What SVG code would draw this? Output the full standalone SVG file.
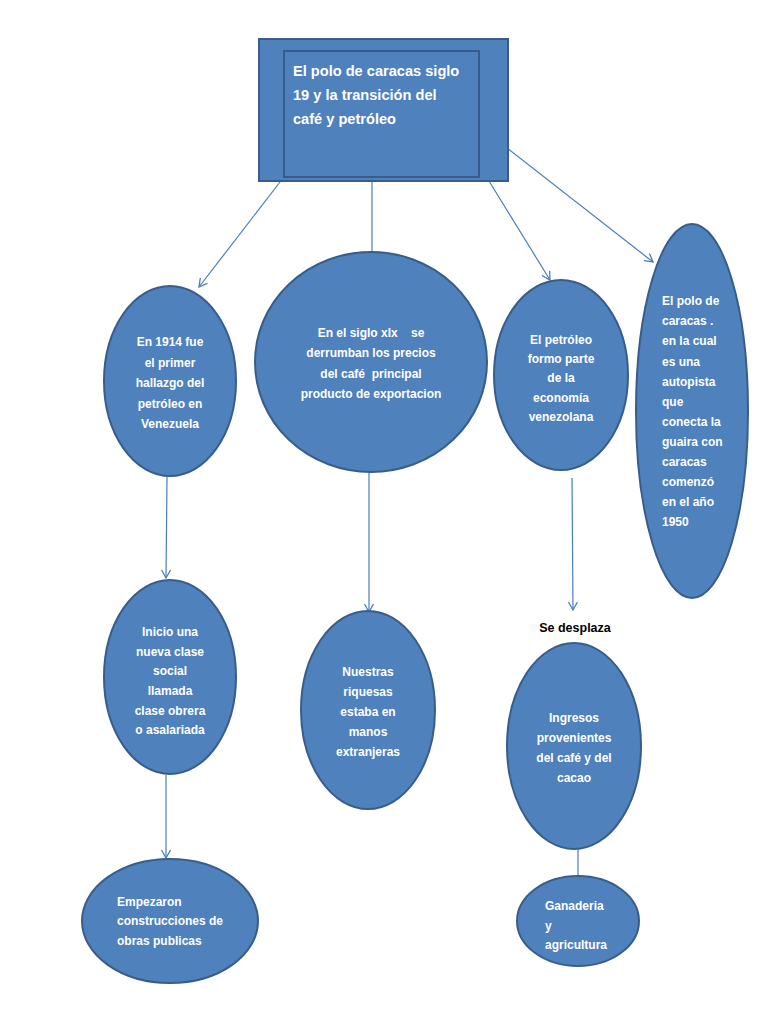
<svg xmlns="http://www.w3.org/2000/svg" width="768" height="1024" viewBox="0 0 768 1024">
<defs>
<marker id="arr" markerWidth="12" markerHeight="12" refX="9" refY="5" orient="auto" markerUnits="userSpaceOnUse">
<path d="M1,0.5 L9,5 L1,9.5" fill="none" stroke="#4A7EBB" stroke-width="1.3"/>
</marker>
</defs>
<style>
.node{fill:#4F81BD;stroke:#385D8A;stroke-width:2}
.t{fill:#ffffff;font-family:"Liberation Sans",Arial,sans-serif;font-size:12px;font-weight:bold}
.c{text-anchor:middle}
.title{fill:#ffffff;font-family:"Liberation Sans",Arial,sans-serif;font-size:14.6px;font-weight:bold}
.lbl{fill:#000000;font-family:"Liberation Sans",Arial,sans-serif;font-size:12.5px;font-weight:bold}
.con line{stroke:#4A7EBB;stroke-width:1.2;fill:none}
</style>
<rect width="768" height="1024" fill="#ffffff"/>
<g id="connectors" class="con">
<line x1="280" y1="182" x2="199" y2="287" marker-end="url(#arr)"/>
<line x1="372" y1="182" x2="372" y2="253"/>
<line x1="489" y1="181" x2="550" y2="280" marker-end="url(#arr)"/>
<line x1="507" y1="148" x2="653" y2="262" marker-end="url(#arr)"/>
<line x1="167" y1="477" x2="166" y2="578" marker-end="url(#arr)"/>
<line x1="369" y1="472" x2="369" y2="612" marker-end="url(#arr)"/>
<line x1="572" y1="478" x2="573" y2="610" marker-end="url(#arr)"/>
<line x1="166" y1="775" x2="166" y2="858" marker-end="url(#arr)"/>
<line x1="578" y1="849" x2="578" y2="878"/>
</g>
<g id="title">
<rect class="node" x="259" y="39" width="249" height="142" stroke-width="2.5"/>
<rect class="node" x="284" y="51" width="195" height="126"/>
<text class="title" x="293" y="76">El polo de caracas siglo</text>
<text class="title" x="293" y="100">19 y la transición del</text>
<text class="title" x="293" y="124">café y petróleo</text>
</g>
<g id="n1914">
<ellipse class="node" cx="170" cy="381" rx="66" ry="95"/>
<text class="t c" x="170" y="346">En 1914 fue</text>
<text class="t c" x="170" y="367">el primer</text>
<text class="t c" x="170" y="387">hallazgo del</text>
<text class="t c" x="170" y="408">petróleo en</text>
<text class="t c" x="170" y="428">Venezuela</text>
</g>
<g id="nsiglo">
<ellipse class="node" cx="371" cy="362" rx="116" ry="110"/>
<text class="t c" x="371" y="337" xml:space="preserve">En el siglo xIx    se</text>
<text class="t c" x="371" y="357">derrumban los precios</text>
<text class="t c" x="371" y="378" xml:space="preserve">del café  principal</text>
<text class="t c" x="371" y="398">producto de exportacion</text>
</g>
<g id="npetroleo">
<ellipse class="node" cx="561" cy="375" rx="67" ry="95"/>
<text class="t c" x="561" y="344">El petróleo</text>
<text class="t c" x="561" y="363">formo parte</text>
<text class="t c" x="561" y="382">de la</text>
<text class="t c" x="561" y="402">economía</text>
<text class="t c" x="561" y="421">venezolana</text>
</g>
<g id="npolo">
<ellipse class="node" cx="692" cy="411" rx="56" ry="187"/>
<text class="t" x="662" y="305">El polo de</text>
<text class="t" x="662" y="325">caracas .</text>
<text class="t" x="662" y="345">en la cual</text>
<text class="t" x="662" y="366">es una</text>
<text class="t" x="662" y="386">autopista</text>
<text class="t" x="662" y="406">que</text>
<text class="t" x="662" y="426">conecta la</text>
<text class="t" x="662" y="446">guaira con</text>
<text class="t" x="662" y="466">caracas</text>
<text class="t" x="662" y="486">comenzó</text>
<text class="t" x="662" y="506">en el año</text>
<text class="t" x="662" y="526">1950</text>
</g>
<g id="ninicio">
<ellipse class="node" cx="170" cy="677" rx="66" ry="97"/>
<text class="t c" x="170" y="636">Inicio una</text>
<text class="t c" x="170" y="656">nueva clase</text>
<text class="t c" x="170" y="675">social</text>
<text class="t c" x="170" y="695">llamada</text>
<text class="t c" x="170" y="715">clase obrera</text>
<text class="t c" x="170" y="734">o asalariada</text>
</g>
<g id="nnuestras">
<ellipse class="node" cx="368" cy="710" rx="67" ry="99"/>
<text class="t c" x="368" y="676">Nuestras</text>
<text class="t c" x="368" y="696">riquesas</text>
<text class="t c" x="368" y="716">estaba en</text>
<text class="t c" x="368" y="736">manos</text>
<text class="t c" x="368" y="756">extranjeras</text>
</g>
<g id="lblDesplaza">
<text class="lbl" x="575" y="632" text-anchor="middle">Se desplaza</text>
</g>
<g id="ningresos">
<ellipse class="node" cx="574" cy="746" rx="67" ry="103"/>
<text class="t c" x="574" y="722">Ingresos</text>
<text class="t c" x="574" y="742">provenientes</text>
<text class="t c" x="574" y="762">del café y del</text>
<text class="t c" x="574" y="782">cacao</text>
</g>
<g id="nempezaron">
<ellipse class="node" cx="170" cy="921" rx="88" ry="62"/>
<text class="t" x="117" y="906">Empezaron</text>
<text class="t" x="117" y="925">construcciones de</text>
<text class="t" x="117" y="945">obras publicas</text>
</g>
<g id="nganaderia">
<ellipse class="node" cx="578" cy="921" rx="61" ry="45"/>
<text class="t" x="545" y="910">Ganaderia</text>
<text class="t" x="545" y="930">y</text>
<text class="t" x="545" y="949">agricultura</text>
</g>
</svg>
